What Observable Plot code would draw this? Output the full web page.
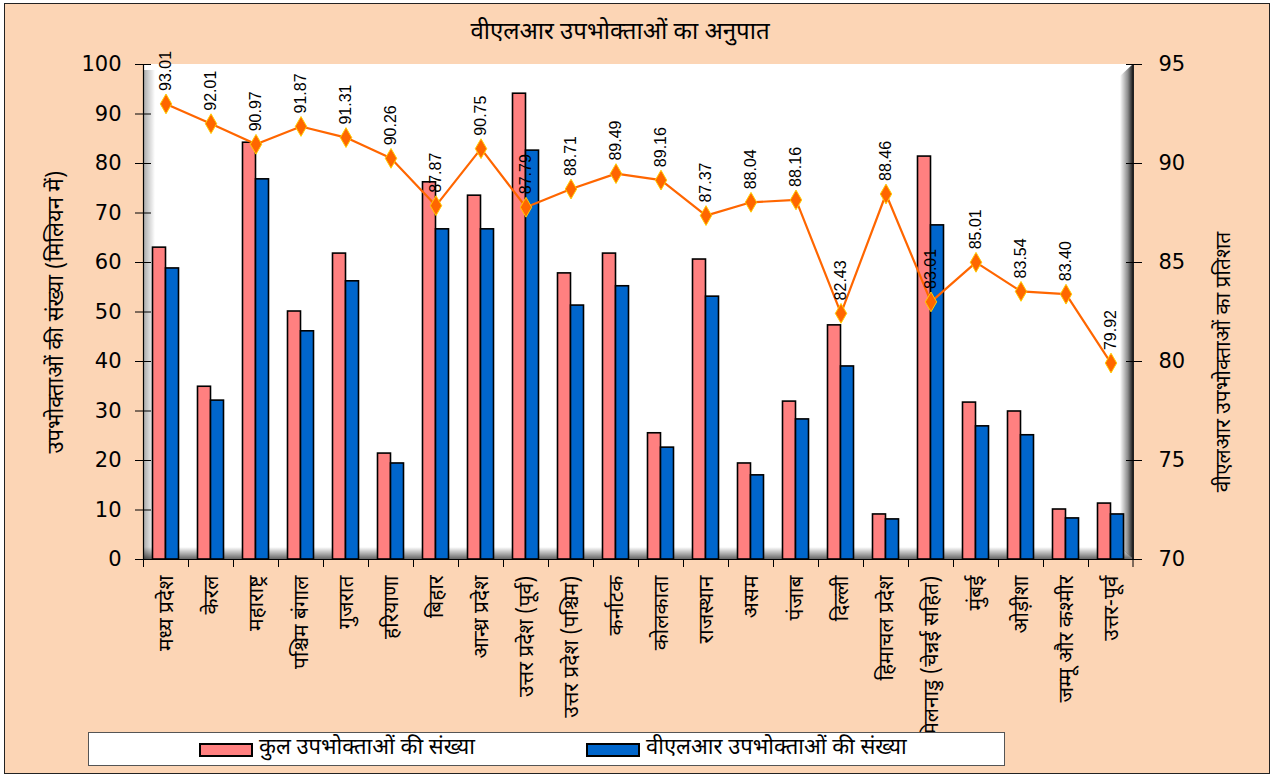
<!DOCTYPE html>
<html><head><meta charset="utf-8">
<script src="https://cdn.jsdelivr.net/npm/d3@7"></script>
<script src="https://cdn.jsdelivr.net/npm/@observablehq/plot@0.6"></script>
<style>
body{margin:0;background:#fff;width:1277px;height:778px;overflow:hidden;position:relative;font-family:'Noto Sans Devanagari','Lohit Devanagari','Noto Sans',sans-serif}
#frame{position:absolute;left:4px;top:3px;width:1266px;height:771px;background:#FCD5B5;border:1px solid #222;box-sizing:border-box}
#title{position:absolute;left:0;width:1240px;top:16px;text-align:center;font-size:24px;line-height:34px;color:#000}
#chart{position:absolute;left:0;top:50px}
#legend{position:absolute;left:88px;top:732px;width:917px;height:34px;background:#fff;border:1.5px solid #555;box-sizing:border-box}
.item{position:absolute;top:0;height:31px;font-size:22px;line-height:31px;white-space:nowrap}
.sw{position:absolute;top:10px;left:0;width:54px;height:14px;border:2px solid #000;box-sizing:border-box}
.lt{position:absolute;left:60px;top:0}
</style></head>
<body>
<div id="frame"></div>
<div id="title">वीएलआर उपभोक्ताओं का अनुपात</div>
<div id="chart"></div>
<div id="legend">
  <div class="item" style="left:110px"><span class="sw" style="background:#FF8080"></span><span class="lt">कुल उपभोक्ताओं की संख्या</span></div>
  <div class="item" style="left:497px"><span class="sw" style="background:#0066CC"></span><span class="lt">वीएलआर उपभोक्ताओं की संख्या</span></div>
</div>
<script>
const categories = ["मध्य प्रदेश","केरल","महाराष्ट्र","पश्चिम बंगाल","गुजरात","हरियाणा","बिहार","आन्ध्र प्रदेश","उत्तर प्रदेश (पूर्व)","उत्तर प्रदेश (पश्चिम)","कर्नाटक","कोलकाता","राजस्थान","असम","पंजाब","दिल्ली","हिमाचल प्रदेश","तमिलनाडु (चेन्नई सहित)","मुंबई","ओड़ीशा","जम्मू और कश्मीर","उत्तर-पूर्व"];
const totalSubs = [63.0,34.9,84.2,50.1,61.8,21.4,76.2,73.5,94.1,57.8,61.8,25.5,60.6,19.4,31.9,47.3,9.1,81.4,31.7,29.9,10.1,11.3];
const vlrSubs = [58.8,32.1,76.8,46.1,56.2,19.4,66.7,66.7,82.6,51.3,55.2,22.6,53.1,17.0,28.3,39.0,8.1,67.5,26.9,25.1,8.3,9.1];
const vlrPct = [93.01,92.01,90.97,91.87,91.31,90.26,87.87,90.75,87.79,88.71,89.49,89.16,87.37,88.04,88.16,82.43,88.46,83.01,85.01,83.54,83.40,79.92];
const leftTicks = [0,10,20,30,40,50,60,70,80,90,100];
const rightTicks = [70,75,80,85,90,95];
const leftTitle = "उपभोक्ताओं की संख्या (मिलियन में)";
const rightTitle = "वीएलआर उपभोक्ताओं का प्रतिशत";

const rows = categories.map((c,i)=>({cat:c,total:totalSubs[i],vlr:vlrSubs[i],pct:vlrPct[i]}));
const W=1277,H=680,mL=143,mR=144,mT=14,mB=171;
const bw=(W-mL-mR)/categories.length;
const barW=13;
const side=(bw-2*barW)/2;
const toLeft = v => (v-70)*4; // map right-axis value onto left-axis scale

function decor(index, scales, values, dims){
  const {width,height,marginLeft:l,marginRight:r,marginTop:t,marginBottom:b}=dims;
  const x0=l,x1=width-r,y0=t,y1=height-b;
  const g=d3.create("svg:g");
  const defs=g.append("defs");
  const lg=(id,x2,y2,stops)=>{const gr=defs.append("linearGradient").attr("id",id).attr("x1",0).attr("y1",0).attr("x2",x2).attr("y2",y2);
    stops.forEach(([o,c,a])=>gr.append("stop").attr("offset",o).attr("stop-color",c).attr("stop-opacity",a));};
  lg("gl",1,0,[[0,"#000",0.35],[1,"#000",0]]);
  lg("gf",0,1,[[0,"#000",0],[0.6,"#000",0.35],[1,"#000",0.6]]);
  lg("gr",1,0,[[0,"#000",0],[0.6,"#000",0.45],[1,"#000",0.9]]);
  g.append("rect").attr("x",x0).attr("y",y0).attr("width",x1-x0).attr("height",y1-y0).attr("fill","#fff");
  g.append("rect").attr("x",x0).attr("y",y0+6).attr("width",12).attr("height",y1-y0-6).attr("fill","url(#gl)");
  g.append("path").attr("d",`M${x0},${y1-12}L${x1-12},${y1-12}L${x1},${y1}L${x0},${y1}Z`).attr("fill","url(#gf)");
  g.append("path").attr("d",`M${x1-13},${y0+12}L${x1},${y0}L${x1},${y1}L${x1-13},${y1-12}Z`).attr("fill","url(#gr)");
  return g.node();
}
function axisLines(index, scales, values, dims){
  const {width,height,marginLeft:l,marginRight:r,marginTop:t,marginBottom:b}=dims;
  const x0=l,x1=width-r,y0=t,y1=height-b;
  const g=d3.create("svg:g").attr("stroke","#000").attr("fill","none");
  g.append("line").attr("x1",x0+0.5).attr("x2",x0+0.5).attr("y1",y0).attr("y2",y1).attr("stroke-width",1.2);
  g.append("line").attr("x1",x1).attr("x2",x1).attr("y1",y0).attr("y2",y1).attr("stroke-width",2).attr("stroke","#222");
  g.append("line").attr("x1",x0).attr("x2",x1).attr("y1",y1+0.5).attr("y2",y1+0.5).attr("stroke-width",1.2);
  categories.forEach(c=>{const x=Math.round(scales.x(c))+0.5;g.append("line").attr("x1",x).attr("x2",x).attr("y1",y1).attr("y2",y1+8);});
  g.append("line").attr("x1",x1).attr("x2",x1).attr("y1",y1).attr("y2",y1+8);
  return g.node();
}

const dev = "'Noto Sans Devanagari','Lohit Devanagari','Noto Sans','Mangal',sans-serif";
const num = "'DejaVu Sans',Verdana,sans-serif";
const plot = Plot.plot({
  width:W,height:H,marginLeft:mL,marginRight:mR,marginTop:mT,marginBottom:mB,
  style:{background:"transparent",overflow:"visible"},
  x:{type:"band",domain:categories,padding:0},
  y:{domain:[0,100]},
  marks:[
    decor,
    Plot.barY(rows,{x:"cat",y:"total",fill:"#FF8080",stroke:"#000",strokeWidth:1.6,insetLeft:side,insetRight:bw-side-barW}),
    Plot.barY(rows,{x:"cat",y:"vlr",fill:"#0066CC",stroke:"#000",strokeWidth:1.6,insetLeft:side+barW,insetRight:side}),
    axisLines,
    Plot.line(rows,{x:"cat",y:d=>toLeft(d.pct),stroke:"#FF6600",strokeWidth:2.2}),
    Plot.dot(rows,{x:"cat",y:d=>toLeft(d.pct),symbol:"diamond",r:6,fill:"#FF6600",stroke:"#FFCC00",strokeWidth:1}),
    Plot.text(rows,{x:"cat",y:d=>toLeft(d.pct),text:d=>d.pct.toFixed(2),rotate:-90,textAnchor:"start",dy:-13,fontSize:16,fontFamily:"'Liberation Sans Narrow','Arial Narrow',sans-serif",fill:"#000"}),
    Plot.axisY({ticks:leftTicks,tickSize:16,dx:8,tickFormat:()=>"",label:null}),
    Plot.axisY({ticks:leftTicks,tickSize:0,tickPadding:22,fontSize:21,fontFamily:num,label:null}),
    Plot.axisY({anchor:"right",ticks:rightTicks.map(toLeft),tickSize:16,dx:-8,tickFormat:()=>"",label:null}),
    Plot.axisY({anchor:"right",ticks:rightTicks.map(toLeft),tickFormat:d=>70+d/4,tickSize:0,tickPadding:25,fontSize:21,fontFamily:num,label:null}),
    Plot.axisX({tickSize:0,tickRotate:-90,tickPadding:16,fontSize:21,fontFamily:dev,label:null}),
    Plot.text([leftTitle],{frameAnchor:"left",dx:-88,rotate:-90,textAnchor:"middle",fontSize:22,fontFamily:dev,fill:"#000"}),
    Plot.text([rightTitle],{frameAnchor:"right",dx:90,dy:50,rotate:-90,textAnchor:"middle",fontSize:21,fontFamily:dev,fill:"#000"})
  ]
});
document.getElementById("chart").appendChild(plot);
</script>
</body></html>
